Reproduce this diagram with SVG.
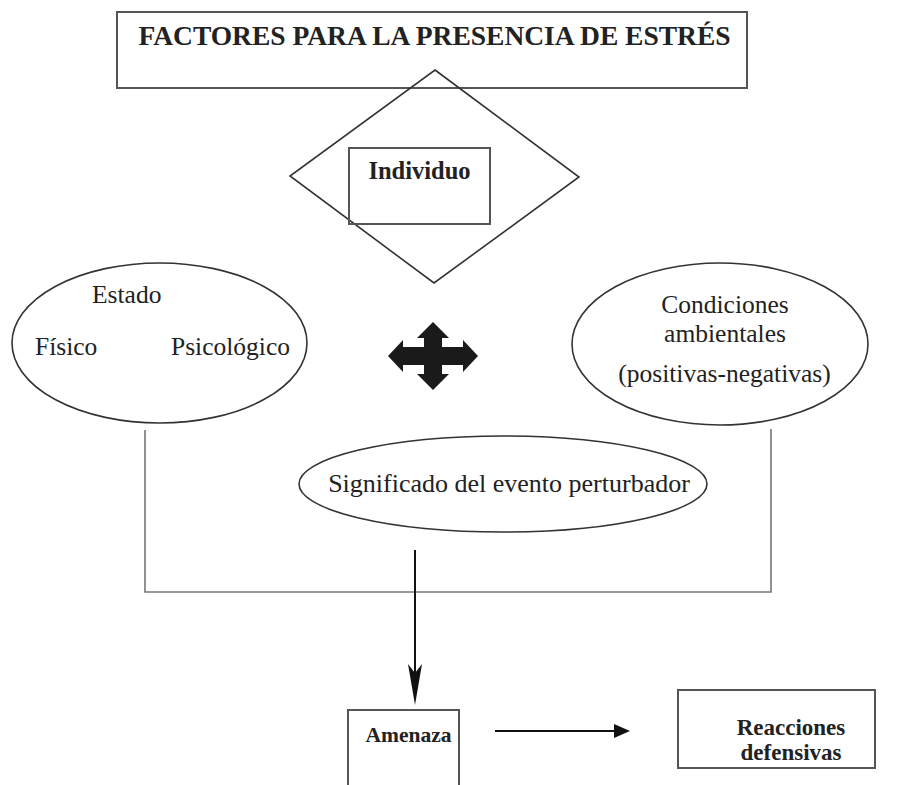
<svg xmlns="http://www.w3.org/2000/svg" width="904" height="785" viewBox="0 0 904 785">
<style>
  .bg { fill: #ffffff; }
  .box { fill: none; stroke: #555; stroke-width: 2; }
  .shape { fill: none; stroke: #333; stroke-width: 1.6; }
  .conn { fill: none; stroke: #777; stroke-width: 1.6; }
  .arrow { fill: none; stroke: #111; stroke-width: 2; }
  .head { fill: #111; stroke: none; }
  text { font-family: "Liberation Serif", "Times New Roman", serif; fill: #222; }
  .b { font-weight: bold; }
  .r { font-size: 25.5px; }
  .mid { text-anchor: middle; }
</style>
<rect class="bg" x="0" y="0" width="904" height="785"/>

<g id="title">
  <rect class="box" x="117" y="12" width="630" height="76"/>
  <text class="b mid" x="434.5" y="45" font-size="27.5">FACTORES PARA LA PRESENCIA DE ESTRÉS</text>
</g>

<g id="individuo">
  <polygon class="shape" points="435,70 579,177 434,283 290,176"/>
  <rect class="box" x="349" y="148" width="141" height="76"/>
  <text class="b mid" x="419.5" y="179" font-size="24.5">Individuo</text>
</g>

<g id="estado">
  <ellipse class="shape" cx="159.5" cy="343" rx="147.5" ry="80"/>
  <text class="r" x="92" y="303">Estado</text>
  <text class="r" x="35" y="355">Físico</text>
  <text class="r" x="171" y="355">Psicológico</text>
</g>

<g id="interaccion">
  <polygon fill="#1a1a1a" points="433,322 449,338 442,338 442,347 463,347 463,340 478,356 463,372 463,365 442,365 442,374 449,374 433,390 417,374 424,374 424,365 403,365 403,372 388,356 403,340 403,347 424,347 424,338 417,338"/>
</g>

<g id="condiciones">
  <ellipse class="shape" cx="720" cy="344" rx="148" ry="81"/>
  <text class="r mid" x="725" y="313">Condiciones</text>
  <text class="r mid" x="725" y="342">ambientales</text>
  <text class="r mid" x="724.5" y="382">(positivas-negativas)</text>
</g>

<g id="significado">
  <ellipse class="shape" cx="503" cy="484" rx="204" ry="48"/>
  <text class="mid" x="509" y="492" font-size="26">Significado del evento perturbador</text>
</g>

<g id="amenaza">
  <rect class="box" x="348" y="710" width="111" height="90"/>
  <text class="b mid" x="408.5" y="742" font-size="21.5">Amenaza</text>
</g>

<g id="reacciones">
  <rect class="box" x="678" y="690" width="197" height="78"/>
  <text class="b mid" x="791" y="735" font-size="23">Reacciones</text>
  <text class="b mid" x="791" y="760" font-size="23">defensivas</text>
</g>

<g id="connectors">
  <polyline class="conn" points="145,430 145,592 771,592 771,429"/>
  <line class="arrow" x1="415" y1="550" x2="415" y2="680"/>
  <path class="head" d="M415,705 L408,664 L415,673 L422,664 Z"/>
  <line class="arrow" x1="495" y1="731" x2="616" y2="731"/>
  <path class="head" d="M630,731 L614,724 L614,738 Z"/>
</g>
</svg>
